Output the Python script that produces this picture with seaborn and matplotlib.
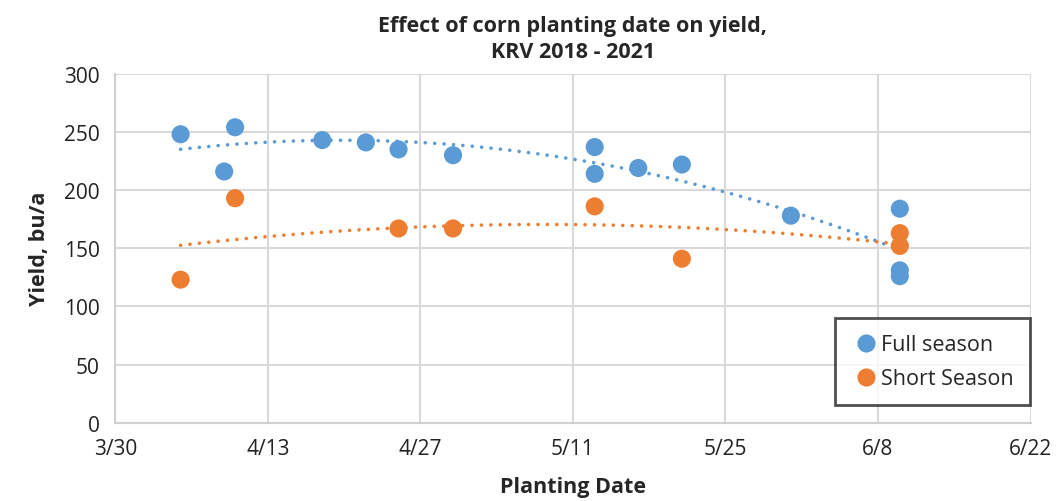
import matplotlib.pyplot as plt
import matplotlib.dates as mdates
import seaborn as sns
import pandas as pd
import numpy as np

# planting dates (month/day) and yields
full_dates = ["4/5", "4/9", "4/10", "4/18", "4/22", "4/25", "4/30",
              "5/13", "5/13", "5/17", "5/21", "5/31", "6/10", "6/10", "6/10"]
full_yield = [248, 216, 254, 243, 241, 235, 230,
              237, 214, 219, 222, 178, 184, 131, 126]

short_dates = ["4/5", "4/10", "4/25", "4/30", "5/13", "5/21", "6/10", "6/10"]
short_yield = [123, 193, 167, 167, 186, 141, 163, 152]

tick_dates = ["3/30", "4/13", "4/27", "5/11", "5/25", "6/8", "6/22"]

series_names = ["Full season", "Short Season"]
colors = ["#5B9BD5", "#ED7D31"]


def to_date(s):
    return pd.to_datetime("2021/" + s, format="%Y/%m/%d")


df = pd.DataFrame({
    "date": [to_date(d) for d in full_dates + short_dates],
    "yield": full_yield + short_yield,
    "season": [series_names[0]] * len(full_dates) + [series_names[1]] * len(short_dates),
})

sns.set_style("white")
plt.rcParams["font.family"] = ["Open Sans", "DejaVu Sans"]

fig = plt.figure(figsize=(10.57, 5.02), dpi=100)
ax = fig.add_axes([0.109, 0.156, 0.866, 0.695])

# second order trendlines, round dots like Excel
for name, color in zip(series_names, colors):
    sub = df[df["season"] == name]
    xn = mdates.date2num(sub["date"])
    coef = np.polyfit(xn, sub["yield"], 2)
    xs = np.linspace(xn.min(), xn.max(), 200)
    ax.plot(mdates.num2date(xs), np.polyval(coef, xs), color=color,
            linestyle=(0, (0.01, 2.6)), linewidth=2.6, dash_capstyle="round", zorder=2)

sns.scatterplot(data=df, x="date", y="yield", hue="season", palette=colors,
                s=170, edgecolor="none", ax=ax, zorder=3)

ticks = [to_date(t) for t in tick_dates]
ax.set_xlim(ticks[0], ticks[-1])
ax.set_xticks(ticks)
ax.xaxis.set_major_formatter(plt.FuncFormatter(
    lambda v, p: f"{mdates.num2date(v).month}/{mdates.num2date(v).day}"))
ax.set_ylim(0, 300)
ax.set_yticks(range(0, 301, 50))

ax.grid(True, color="#d9d9d9", linewidth=1.5)
ax.set_axisbelow(True)
for side in ["top", "right"]:
    ax.spines[side].set_visible(False)
for side in ["left", "bottom"]:
    ax.spines[side].set_color("#d0d0d0")
    ax.spines[side].set_linewidth(1.5)
ax.tick_params(axis="both", length=0, labelsize=15, colors="#222222", pad=11)

ax.set_xlabel("Planting Date", fontsize=15.5, fontweight="bold", labelpad=12)
ax.set_ylabel("Yield, bu/a", fontsize=15.5, fontweight="bold", labelpad=10)
ax.set_title("Effect of corn planting date on yield,\nKRV 2018 - 2021",
             fontsize=15.5, fontweight="bold", pad=12, linespacing=1.35)

leg = ax.legend(loc="lower right", bbox_to_anchor=(0.999, 0.05), borderaxespad=0,
                fontsize=15.5, frameon=True, fancybox=False, handletextpad=0.0,
                handlelength=1.4, borderpad=0.75, labelspacing=0.6, markerscale=1.0)
leg.get_frame().set_edgecolor("#222222")
leg.get_frame().set_linewidth(2)

fig.savefig("out.png", dpi=100)
